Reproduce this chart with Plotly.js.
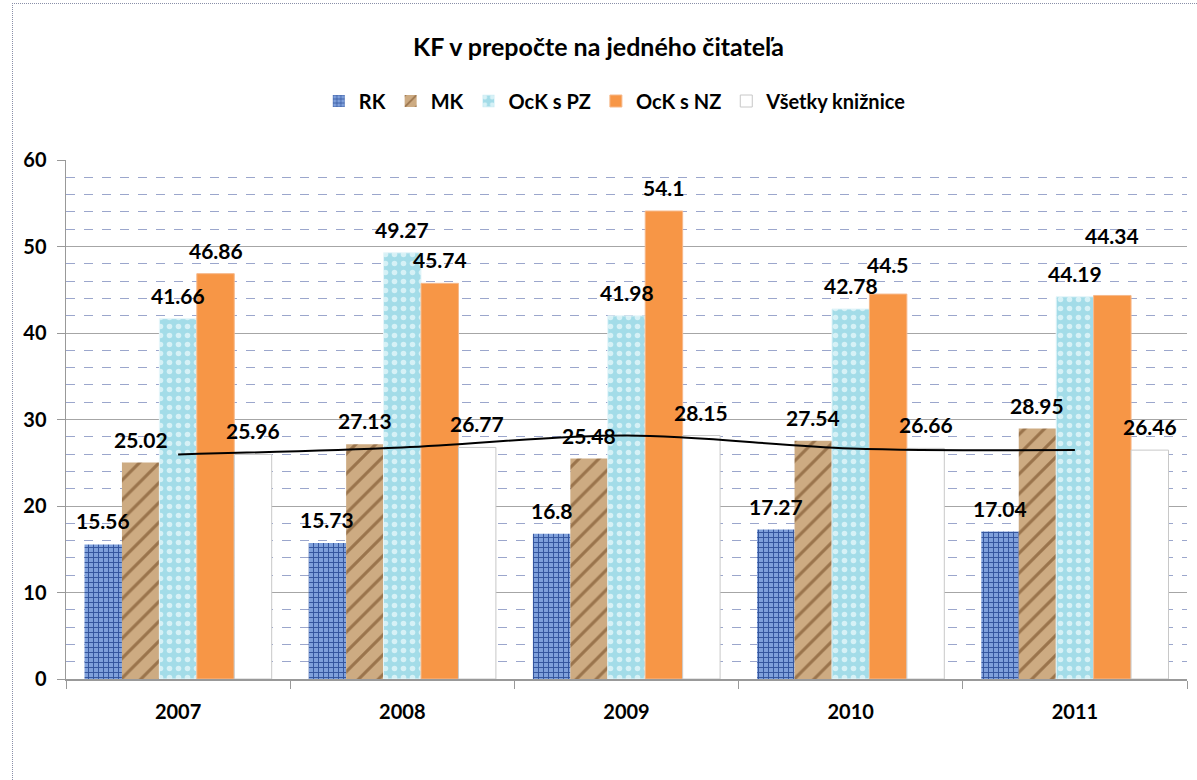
<!DOCTYPE html>
<html>
<head>
<meta charset="utf-8">
<script src="https://cdn.plot.ly/plotly-3.0.1.min.js"></script>
<style>
  html, body { margin: 0; padding: 0; background: #fff; }
  #frame { position: absolute; left: 12px; top: 3px; width: 1200px; height: 800px;
           border-left: 1px dotted #8a8fa8; border-top: 1px dotted #8a8fa8; pointer-events: none; }
  #chart { position: absolute; left: 0; top: 0; width: 1197px; height: 780px; }
</style>
</head>
<body>
<div id="chart"></div>
<div id="frame"></div>
<script>
// ---- data ----
const years = ['2007', '2008', '2009', '2010', '2011'];
const seriesNames = ['RK', 'MK', 'OcK s PZ', 'OcK s NZ', 'Všetky knižnice'];
const rk      = [15.56, 15.73, 16.8, 17.27, 17.04];
const mk      = [25.02, 27.13, 25.48, 27.54, 28.95];
const ockPZ   = [41.66, 49.27, 41.98, 42.78, 44.19];
const ockNZ   = [46.86, 45.74, 54.1, 44.5, 44.34];
const vsetky  = [25.96, 26.77, 28.15, 26.66, 26.46];

// ---- styles ----
const FONT = 'Lato, "Open Sans", sans-serif';
const bargap = 0.165;
const styles = [
  {color: '#6F93D3', pattern: {shape: '+', fgcolor: '#34559E', bgcolor: '#7FA0DB', size: 5, solidity: 0.35}, line: {color: 'rgba(0,0,0,0)', width: 0}},
  {color: '#C7A377', pattern: {shape: '/', fgcolor: '#9A744C', bgcolor: '#CDAB82', size: 14, solidity: 0.22}, line: {color: 'rgba(0,0,0,0)', width: 0}},
  {color: '#A8E0EA', pattern: {shape: '.', fgcolor: '#D6F1F6', bgcolor: '#A3DCE8', size: 9, solidity: 0.3}, line: {color: '#E6F6FA', width: 1}},
  {color: '#F79646', line: {color: '#F6B88A', width: 1}},
  {color: '#FFFFFF', line: {color: '#C8C8C8', width: 1}}
];
const allSeries = [rk, mk, ockPZ, ockNZ, vsetky];

const traces = allSeries.map((vals, i) => ({
  type: 'bar',
  name: seriesNames[i],
  x: years,
  y: vals,
  marker: Object.assign({color: styles[i].color, line: styles[i].line}, styles[i].pattern ? {pattern: styles[i].pattern} : {}),
  hoverinfo: 'x+y+name'
}));

// smooth black line through "Všetky knižnice"
traces.push({
  type: 'scatter', mode: 'lines', x: years, y: vsetky, showlegend: false,
  line: {color: '#000000', width: 2, shape: 'spline', smoothing: 1}, hoverinfo: 'skip'
});

// data labels (annotations) centered over each bar; key = yearIndex-seriesIndex
const labelLift = {'4-3': 36, '3-3': 6};
const annotations = [];
const w = (1 - bargap) / seriesNames.length;
allSeries.forEach((vals, i) => {
  vals.forEach((v, j) => {
    annotations.push({
      x: j + (i - (seriesNames.length - 1) / 2) * w,
      y: v, xref: 'x', yref: 'y',
      text: String(v), showarrow: false,
      yanchor: 'bottom', yshift: 9 + (labelLift[j + '-' + i] || 0),
      font: {family: FONT, size: 21, color: '#000', weight: 'bold'}
    });
  });
});

const layout = {
  width: 1197, height: 780,
  margin: {l: 66, r: 10, t: 160, b: 101},
  paper_bgcolor: 'rgba(0,0,0,0)', plot_bgcolor: '#fff',
  barmode: 'group', bargap: bargap, bargroupgap: 0,
  font: {family: FONT, color: '#000'},
  title: {text: 'KF v prepočte na jedného čitateľa', x: 0.5, xanchor: 'center', y: 1 - 47 / 780, yref: 'container', yanchor: 'middle',
          font: {family: FONT, size: 25, color: '#000', weight: 'bold'}},
  legend: {orientation: 'h', x: 0.49, xanchor: 'center', y: 1 + 59 / 519, yanchor: 'middle',
           font: {family: FONT, size: 20, color: '#000', weight: 'bold'}, itemwidth: 30, traceorder: 'normal'},
  xaxis: {type: 'category', tickson: 'boundaries', ticks: 'outside', ticklen: 8, tickcolor: '#999',
          showline: true, linecolor: '#999', linewidth: 1.5, showgrid: false,
          tickfont: {family: FONT, size: 20, color: '#000', weight: 'bold'}, ticklabelstandoff: 14, fixedrange: true},
  yaxis: {range: [0, 60], dtick: 10, tick0: 0, ticks: 'outside', ticklen: 8, tickcolor: '#999',
          showline: true, linecolor: '#999', linewidth: 1.5,
          showgrid: true, gridcolor: '#A6A6A6', gridwidth: 1, zeroline: false,
          minor: {dtick: 2, showgrid: true, gridcolor: '#9BA6CC', griddash: 'dash', gridwidth: 1},
          tickfont: {family: FONT, size: 20, color: '#000', weight: 'bold'}, ticklabelstandoff: 6, fixedrange: true},
  annotations: annotations,
  showlegend: true
};

Plotly.newPlot('chart', traces, layout, {displayModeBar: false, staticPlot: true});
</script>
</body>
</html>
